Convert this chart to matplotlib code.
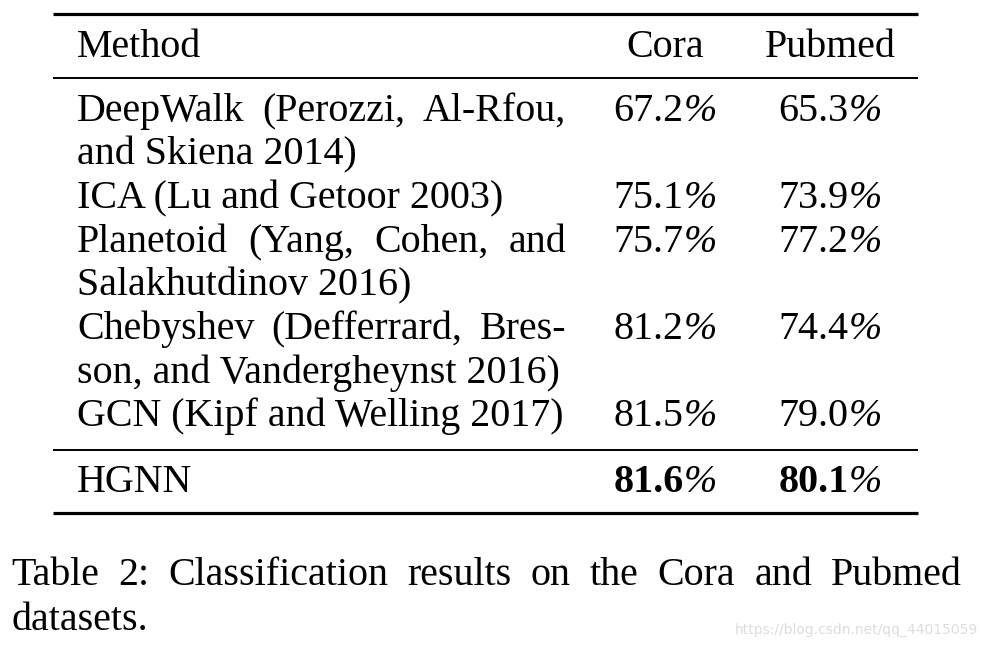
import matplotlib
matplotlib.use("Agg")
import matplotlib.pyplot as plt

plt.rcParams["font.family"] = ["Liberation Serif", "DejaVu Serif"]

# --- data ---
headers = ["Method", "Cora", "Pubmed"]
methods = [
    ["DeepWalk (Perozzi, Al-Rfou,", "and Skiena 2014)"],
    ["ICA (Lu and Getoor 2003)"],
    ["Planetoid (Yang, Cohen, and", "Salakhutdinov 2016)"],
    ["Chebyshev (Defferrard, Bres-", "son, and Vandergheynst 2016)"],
    ["GCN (Kipf and Welling 2017)"],
]
cora = [67.2, 75.1, 75.7, 81.2, 81.5]
pubmed = [65.3, 73.9, 77.2, 74.4, 79.0]
ours_name = "HGNN"
ours_cora = 81.6
ours_pubmed = 80.1
caption = ["Table 2: Classification results on the Cora and Pubmed", "datasets."]
watermark = "https://blog.csdn.net/qq_44015059"

W, H = 988, 648
FS = 28.8

fig = plt.figure(figsize=(W / 100, H / 100), dpi=100)
ax = fig.add_axes([0, 0, 1, 1])
ax.set_xlim(0, W)
ax.set_ylim(H, 0)
ax.axis("off")
renderer = fig.canvas.get_renderer()


def width_of(t):
    return t.get_window_extent(renderer).width


def justify(line, x0, x1, y):
    """Tulis satu baris teks rata kiri-kanan (kayak LaTeX)."""
    words = line.split(" ")
    texts = [ax.text(0, y, w, va="baseline", ha="left", fontsize=FS) for w in words]
    widths = [width_of(t) for t in texts]
    gap = (x1 - x0 - sum(widths)) / max(len(words) - 1, 1)
    x = x0
    for t, w in zip(texts, widths):
        t.set_x(x)
        x += w + gap


def pct(xc, y, v, bold=False):
    # angka tegak, tanda % miring, dua-duanya ditengahin bareng
    num = ax.text(0, y, f"{v:.1f}", fontsize=FS, va="baseline", ha="left",
                  fontweight="bold" if bold else "normal")
    sign = ax.text(0, y, "%", fontsize=FS, va="baseline", ha="left", style="italic")
    wn, ws = width_of(num), width_of(sign)
    x0 = xc - (wn + ws) / 2
    num.set_x(x0)
    sign.set_x(x0 + wn)


left, right = 53, 918
text_l, text_r = 77, 566
x_cora, x_pub = 665, 830
line_h = 43.6

# rules
ax.plot([left, right], [14, 14], color="black", lw=2.3, solid_capstyle="butt")
ax.plot([left, right], [77.5, 77.5], color="black", lw=1.4, solid_capstyle="butt")
ax.plot([left, right], [449.5, 449.5], color="black", lw=1.4, solid_capstyle="butt")
ax.plot([left, right], [513, 513], color="black", lw=2.3, solid_capstyle="butt")

# header
y_head = 57
ax.text(text_l, y_head, headers[0], fontsize=FS, va="baseline", ha="left")
ax.text(x_cora, y_head, headers[1], fontsize=FS, va="baseline", ha="center")
ax.text(x_pub, y_head, headers[2], fontsize=FS, va="baseline", ha="center")

# body
y = 121
for lines, c, p in zip(methods, cora, pubmed):
    pct(x_cora, y, c)
    pct(x_pub, y, p)
    for i, ln in enumerate(lines):
        if i < len(lines) - 1:
            justify(ln, text_l, text_r, y)
        else:
            ax.text(text_l, y, ln, fontsize=FS, va="baseline", ha="left")
        y += line_h

# baris HGNN
y_ours = 492
ax.text(text_l, y_ours, ours_name, fontsize=FS, va="baseline", ha="left")
pct(x_cora, y_ours, ours_cora, bold=True)
pct(x_pub, y_ours, ours_pubmed, bold=True)

# caption
justify(caption[0], 11, 962, 585)
ax.text(11, 630, caption[1], fontsize=FS, va="baseline", ha="left")

ax.text(978, 630, watermark, fontsize=10, family="DejaVu Sans", color="#dddddd",
        va="center", ha="right")

fig.savefig("out.png", dpi=100)
